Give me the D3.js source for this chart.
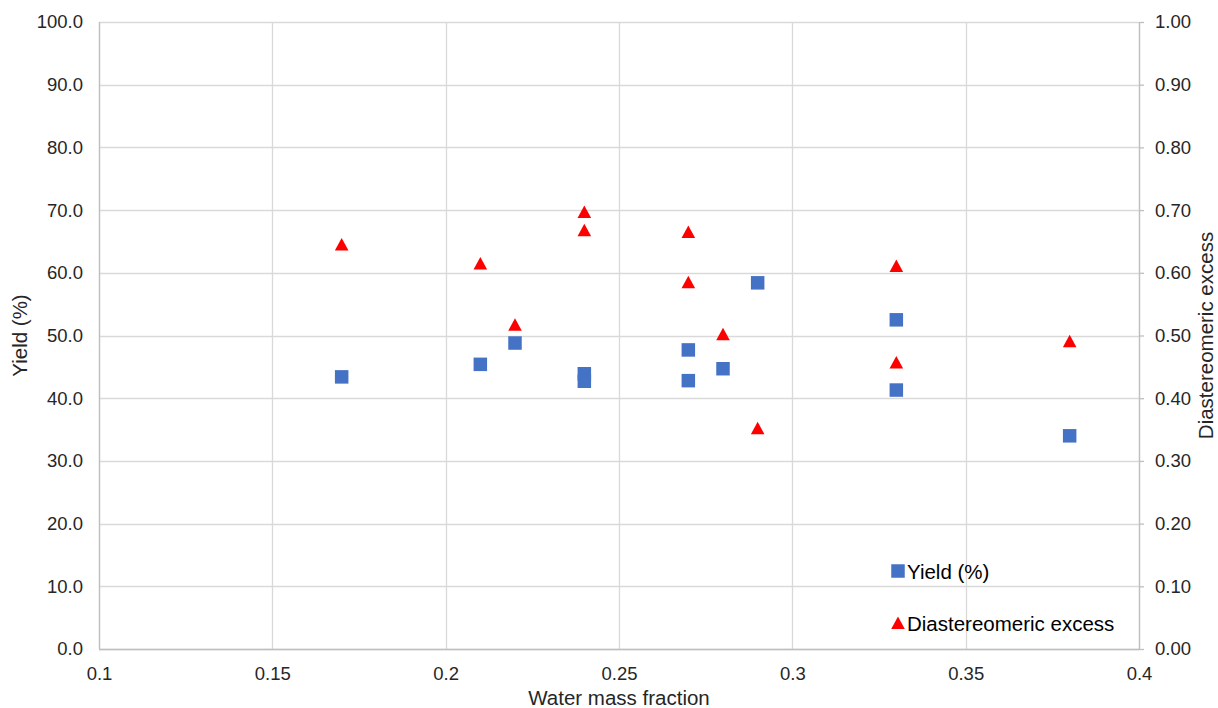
<!DOCTYPE html>
<html>
<head>
<meta charset="utf-8">
<script src="https://cdn.jsdelivr.net/npm/d3@7/dist/d3.min.js"></script>
<style>
  html, body { margin: 0; padding: 0; background: #fff; }
  svg { display: block; font-family: "Liberation Sans", Arial, sans-serif; }
</style>
</head>
<body>
<svg id="chart" width="1218" height="708"></svg>
<script>
// Water mass fraction for each experiment
const waterFraction = [0.17, 0.21, 0.22, 0.24, 0.24, 0.27, 0.27, 0.28, 0.29, 0.33, 0.33, 0.38];
// Yield (%) per experiment
const yieldPct = [43.4, 45.4, 48.8, 43.9, 42.7, 47.7, 42.8, 44.7, 58.4, 52.5, 41.3, 34.0];
// Diastereomeric excess per experiment (same order)
const deFraction = [0.645, 0.615, 0.517, 0.697, 0.668, 0.665, 0.585, 0.502, 0.352, 0.611, 0.457, 0.491];

const xTicks = [0.1, 0.15, 0.2, 0.25, 0.3, 0.35, 0.4];
const yTicks = [0, 10, 20, 30, 40, 50, 60, 70, 80, 90, 100];
const y2Ticks = [0, 0.1, 0.2, 0.3, 0.4, 0.5, 0.6, 0.7, 0.8, 0.9, 1.0];

const svg = d3.select("#chart");
const plot = { left: 99, right: 1139, top: 22, bottom: 649 };

const x = d3.scaleLinear().domain([0.1, 0.4]).range([plot.left, plot.right]);
const y = d3.scaleLinear().domain([0, 100]).range([plot.bottom, plot.top]);
const y2 = d3.scaleLinear().domain([0, 1]).range([plot.bottom, plot.top]);

const gridColor = "#d9d9d9";
const axisColor = "#bfbfbf";
const textColor = "#262626";
const tickFont = 18.5;
const titleFont = 20.5;

// Gridlines
svg.append("g").selectAll("line.h").data(yTicks).join("line")
  .attr("x1", plot.left).attr("x2", plot.right)
  .attr("y1", d => Math.round(y(d)) + 0.5).attr("y2", d => Math.round(y(d)) + 0.5)
  .attr("stroke", gridColor).attr("stroke-width", 1.3);
svg.append("g").selectAll("line.v").data(xTicks).join("line")
  .attr("y1", plot.top).attr("y2", plot.bottom)
  .attr("x1", d => Math.round(x(d)) + 0.5).attr("x2", d => Math.round(x(d)) + 0.5)
  .attr("stroke", gridColor).attr("stroke-width", 1.3);

// Axes
const xAxis = d3.axisBottom(x).tickValues(xTicks).tickSize(0).tickPadding(18)
  .tickFormat(d => d3.format("")(+d.toFixed(2)));
const gx = svg.append("g").attr("transform", `translate(0,${plot.bottom})`).call(xAxis);

const yAxis = d3.axisLeft(y).tickValues(yTicks).tickSize(0).tickPadding(16)
  .tickFormat(d3.format(".1f"));
const gy = svg.append("g").attr("transform", `translate(${plot.left},0)`).call(yAxis);

const y2Axis = d3.axisRight(y2).tickValues(y2Ticks).tickSize(5).tickPadding(11)
  .tickFormat(d3.format(".2f"));
const gy2 = svg.append("g").attr("transform", `translate(${plot.right},0)`).call(y2Axis);

[gx, gy, gy2].forEach(g => {
  g.select(".domain").attr("stroke", axisColor).attr("stroke-width", 1.3);
  g.selectAll(".tick line").attr("stroke", axisColor).attr("stroke-width", 1.3);
  g.selectAll(".tick text").attr("fill", textColor)
    .style("font-size", tickFont + "px").style("font-family", "Liberation Sans, Arial, sans-serif");
});
gy.select(".domain").attr("d", `M0.5,${plot.top}V${plot.bottom}`);
gx.select(".domain").attr("d", `M${plot.left},0.5H${plot.right}`);
gy2.select(".domain").attr("d", `M0.5,${plot.top}V${plot.bottom}`);

// Axis titles
svg.append("text").attr("x", (plot.left + plot.right) / 2).attr("y", 705)
  .attr("text-anchor", "middle").attr("fill", textColor).style("font-size", titleFont + "px")
  .text("Water mass fraction");
svg.append("text").attr("transform", `translate(27,${(plot.top + plot.bottom) / 2}) rotate(-90)`)
  .attr("text-anchor", "middle").attr("fill", textColor).style("font-size", titleFont + "px")
  .text("Yield (%)");
svg.append("text").attr("transform", `translate(1213,${(plot.top + plot.bottom) / 2}) rotate(-90)`)
  .attr("text-anchor", "middle").attr("fill", textColor).style("font-size", titleFont + "px")
  .text("Diastereomeric excess");

// Marker shapes
const sq = 13.5;
const squarePath = `M${-sq/2},${-sq/2}h${sq}v${sq}h${-sq}Z`;
const triPath = "M0,-6.5L6.8,6L-6.8,6Z";
const blue = "#4472C4";
const red = "#FF0000";

const pts = waterFraction.map((w, i) => ({ w, yv: yieldPct[i], de: deFraction[i] }));

// Diastereomeric excess (secondary axis)
svg.append("g").selectAll("path").data(pts).join("path")
  .attr("d", triPath)
  .attr("transform", d => `translate(${x(d.w)},${y2(d.de)})`)
  .attr("fill", red);

// Yield (primary axis)
svg.append("g").selectAll("path").data(pts).join("path")
  .attr("d", squarePath)
  .attr("transform", d => `translate(${x(d.w)},${y(d.yv)})`)
  .attr("fill", blue);

// Legend
const legend = svg.append("g");
const legendItems = [
  { label: "Yield (%)", path: squarePath, color: blue, yPos: 571 },
  { label: "Diastereomeric excess", path: triPath, color: red, yPos: 623 }
];
legendItems.forEach(it => {
  legend.append("path").attr("d", it.path).attr("fill", it.color)
    .attr("transform", `translate(898,${it.yPos})`);
  legend.append("text").attr("x", 907).attr("y", it.yPos + 7.5)
    .attr("fill", "#000").style("font-size", titleFont + "px").text(it.label);
});
</script>
</body>
</html>
